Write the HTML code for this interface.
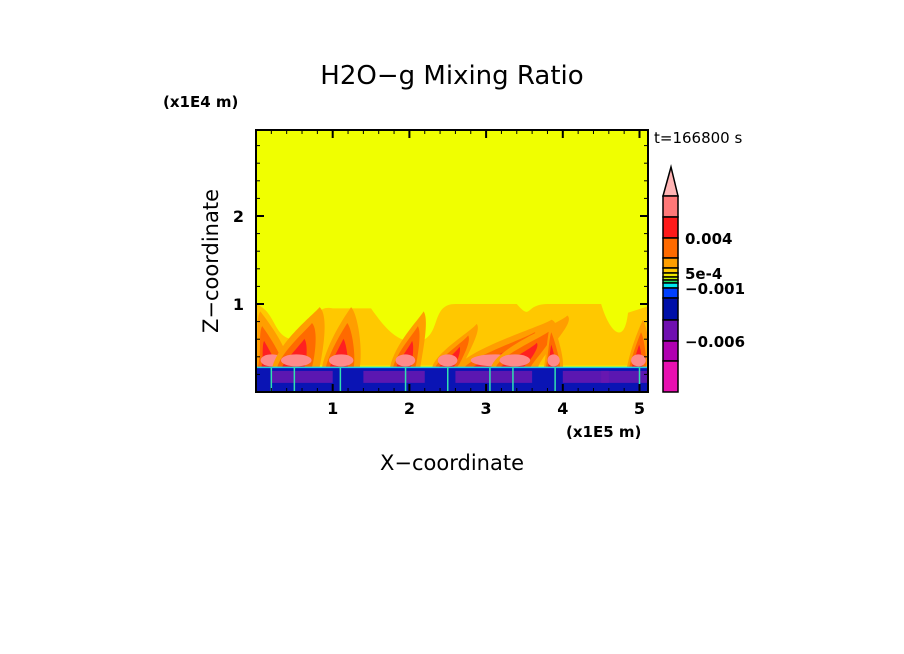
<!DOCTYPE html>
<html><head><meta charset="utf-8"><style>
body{margin:0;background:#fff;}
svg{display:block;font-family:"DejaVu Sans","Liberation Sans",sans-serif;}
</style></head><body>
<svg id="c" width="904" height="654" viewBox="0 0 904 654">
<text x="452" y="84" font-size="26" text-anchor="middle">H2O−g Mixing Ratio</text>
<text x="163" y="107" font-size="15" font-weight="bold">(x1E4 m)</text>
<text x="566" y="437" font-size="15" font-weight="bold">(x1E5 m)</text>
<text x="452" y="470" font-size="21" text-anchor="middle">X−coordinate</text>
<text transform="translate(218,261) rotate(-90)" font-size="21" text-anchor="middle">Z−coordinate</text>
<text x="654" y="143" font-size="15">t=166800 s</text>
<defs><clipPath id="pc"><rect x="256" y="130" width="392" height="262"/></clipPath></defs>
<g id="field" clip-path="url(#pc)"></g>
<g id="axes"></g>
<g id="cbar"></g>
</svg>
<script>
const xTicks=[1,2,3,4,5];
const zTicks=[1,2];
// plumes: base x, top x, top z (1e4 m), half width (1e5 m)
const plumeBase=[0.15,0.45,1.05,1.9,2.45,3.0,3.3,3.85,4.95];
const plumeTop=[0.05,0.85,1.25,2.2,2.9,3.9,4.1,3.85,5.05];
const plumeHeight=[0.95,1.0,1.0,0.95,0.8,0.85,0.9,0.85,0.85];
const plumeWidth=[0.18,0.25,0.2,0.16,0.16,0.4,0.25,0.1,0.12];
const cbLabels=["0.004","5e-4","−0.001","−0.006"];
const cbLabelEdge=[2,5,9,12];
const cbColors=["#ff7878","#ff1a1a","#ff6a00","#ff9e00","#ffc800","#f0e800","#c8f000","#20e060","#00e8f0","#0040ff","#0010a8","#7010b0","#b000b0","#e810b0"];
const cbEdges=[196,217,238,258,268,273,277,280,283,288,298,320,341,361,392];
const NS="http://www.w3.org/2000/svg";
const xs=v=>256+v*76.7, zs=v=>392-v*88;
function mk(p,t,a){const e=document.createElementNS(NS,t);for(const k in a)e.setAttribute(k,a[k]);p.appendChild(e);return e;}
const F=document.getElementById('field');
mk(F,'rect',{x:256,y:130,width:392,height:262,fill:'#f0ff00'});
// light orange low band with wavy top
mk(F,'path',{d:`M${xs(0)},${zs(0.3)} L${xs(0)},${zs(1.0)} C${xs(0.3)},${zs(0.9)} ${xs(0.2)},${zs(0.55)} ${xs(0.6)},${zs(0.6)} C${xs(0.9)},${zs(0.7)} ${xs(0.7)},${zs(1.0)} ${xs(1.0)},${zs(0.95)} L${xs(1.5)},${zs(0.95)} C${xs(1.7)},${zs(0.7)} ${xs(1.9)},${zs(0.5)} ${xs(2.2)},${zs(0.6)} C${xs(2.4)},${zs(0.7)} ${xs(2.3)},${zs(1.0)} ${xs(2.6)},${zs(1.0)} L${xs(3.4)},${zs(1.0)} C${xs(3.6)},${zs(0.8)} ${xs(3.5)},${zs(1.0)} ${xs(3.8)},${zs(1.0)} L${xs(4.5)},${zs(1.0)} C${xs(4.6)},${zs(0.7)} ${xs(4.8)},${zs(0.5)} ${xs(4.85)},${zs(0.9)} L${xs(5.2)},${zs(1.0)} L${xs(5.2)},${zs(0.3)} Z`,fill:'#ffc800'});
plumeBase.forEach((b,i)=>{
  const t=plumeTop[i],h=plumeHeight[i],w=plumeWidth[i];
  const levels=[[0.95,'#ff9e00'],[0.7,'#ff6a00'],[0.45,'#ff2020']];
  levels.forEach(([f,col])=>{
    const tx=b+(t-b)*f, tz=0.28+(h-0.28)*f;
    const p=mk(F,'path',{d:`M${xs(b-w*f)},${zs(0.28)} C${xs(b-w*f*0.6)},${zs(tz*0.6)} ${xs(tx-w*f*0.4)},${zs(tz*0.9)} ${xs(tx)},${zs(tz)} C${xs(tx+w*f*0.5)},${zs(tz*0.9)} ${xs(b+w*f*1.8)},${zs(tz*0.5)} ${xs(b+w*f*1.6)},${zs(0.28)} Z`,fill:col});
    
    
  });
  const e=mk(F,'ellipse',{cx:xs(b+w*0.3),cy:zs(0.36),rx:w*76.7*0.8,ry:6,fill:'#ff8a8a'});
  
  
});
// boundary layer
mk(F,'rect',{x:256,y:zs(0.28),width:392,height:zs(0)-zs(0.28),fill:'#0a14b4'});
[[0.2,1.0],[1.4,2.2],[2.6,3.6],[4.0,4.6],[4.5,5.1]].forEach(([a,b2])=>mk(F,'rect',{x:xs(a),y:zs(0.24),width:(b2-a)*76.7,height:12,fill:'#6a18b0',opacity:0.85}));
mk(F,'line',{x1:256,y1:zs(0.28),x2:648,y2:zs(0.28),stroke:'#20d0e0','stroke-width':1.5});
plumeBase.forEach(b=>mk(F,'line',{x1:xs(b+0.05),y1:zs(0.28),x2:xs(b+0.05),y2:392,stroke:'#30e0b0','stroke-width':1.5}));
// axes
const A=document.getElementById('axes');
const fr=mk(A,'rect',{x:256,y:130,width:392,height:262,fill:'none',stroke:'#000','stroke-width':2});


xTicks.forEach(v=>{
  mk(A,'line',{x1:xs(v),y1:392,x2:xs(v),y2:384,stroke:'#000','stroke-width':2});
  mk(A,'line',{x1:xs(v),y1:130,x2:xs(v),y2:138,stroke:'#000','stroke-width':2});
  const t=mk(A,'text',{x:xs(v),y:414,'font-size':16,'font-weight':'bold','text-anchor':'middle'});t.textContent=v;
  
  
});
zTicks.forEach(v=>{
  mk(A,'line',{x1:256,y1:zs(v),x2:264,y2:zs(v),stroke:'#000','stroke-width':2});
  mk(A,'line',{x1:648,y1:zs(v),x2:640,y2:zs(v),stroke:'#000','stroke-width':2});
  const t=mk(A,'text',{x:244,y:zs(v)+6,'font-size':16,'font-weight':'bold','text-anchor':'end'});t.textContent=v;
  
  
});
for(let v=0.2;v<3;v+=0.2){mk(A,'line',{x1:256,y1:zs(v),x2:260,y2:zs(v),stroke:'#000'});mk(A,'line',{x1:648,y1:zs(v),x2:644,y2:zs(v),stroke:'#000'});}
for(let v=0.2;v<5.1;v+=0.2){mk(A,'line',{x1:xs(v),y1:392,x2:xs(v),y2:388,stroke:'#000'});mk(A,'line',{x1:xs(v),y1:130,x2:xs(v),y2:134,stroke:'#000'});}
// colorbar
const C=document.getElementById('cbar');
const tri=mk(C,'path',{d:'M663,196 L671,167 L678,196 Z',fill:'#ffb4b4',stroke:'#000','stroke-width':1.5});


cbColors.forEach((col,i)=>{
  const r=mk(C,'rect',{x:663,y:cbEdges[i],width:15,height:cbEdges[i+1]-cbEdges[i],fill:col,stroke:'#000','stroke-width':1.5});
  
  
});
cbLabels.forEach((s,i)=>{
  const t=mk(C,'text',{x:685,y:cbEdges[cbLabelEdge[i]]+6,'font-size':15,'font-weight':'bold'});t.textContent=s;
  
  
});
</script>
</body></html>
